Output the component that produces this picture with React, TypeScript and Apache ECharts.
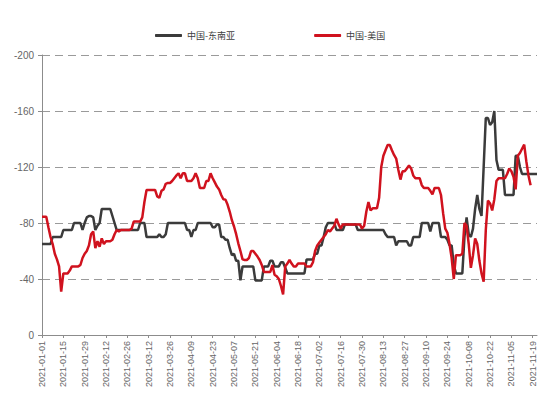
import React, { useEffect, useRef } from "react";
import * as echarts from "echarts";

// Weekday categories from 2021-01-01 (233 points, last = 2021-11-23)
const START_DATE = "2021-01-01";
const POINT_COUNT = 233;
function buildWeekdays(start: string, count: number): string[] {
  const out: string[] = [];
  const d = new Date(start + "T00:00:00Z");
  while (out.length < count) {
    const wd = d.getUTCDay();
    if (wd !== 0 && wd !== 6) {
      const m = String(d.getUTCMonth() + 1).padStart(2, "0");
      const day = String(d.getUTCDate()).padStart(2, "0");
      out.push(`${d.getUTCFullYear()}-${m}-${day}`);
    }
    d.setUTCDate(d.getUTCDate() + 1);
  }
  return out;
}
const categories = buildWeekdays(START_DATE, POINT_COUNT);

const seriesNames = ["中国-东南亚", "中国-美国"];

const seaValues = [
  -65, -65, -65, -65, -65, -70, -70, -70, -70, -70,
  -75, -75, -75, -75, -75, -80, -80, -80, -80, -75,
  -80, -84, -85, -85, -84, -75, -78, -80, -90, -90,
  -90, -90, -90, -85, -80, -75, -75, -75, -75, -75,
  -75, -75, -75, -75, -75, -75, -80, -80, -80, -70,
  -70, -70, -70, -70, -70, -72, -70, -70, -72, -80,
  -80, -80, -80, -80, -80, -80, -80, -80, -75, -75,
  -70, -75, -75, -80, -80, -80, -80, -80, -80, -80,
  -77, -77, -79, -79, -70, -70, -68, -68, -62, -57,
  -58, -53, -53, -39, -49, -49, -49, -49, -49, -49,
  -39, -39, -39, -39, -49, -49, -49, -53, -53, -49,
  -49, -49, -52, -52, -48, -44, -44, -44, -44, -44,
  -44, -44, -44, -44, -54, -54, -54, -54, -58, -58,
  -64, -64, -70, -77, -80, -80, -80, -80, -75, -75,
  -75, -75, -79, -79, -79, -79, -79, -79, -75, -75,
  -75, -75, -75, -75, -75, -75, -75, -75, -75, -75,
  -75, -72, -70, -70, -70, -70, -64, -67, -67, -67,
  -67, -67, -64, -64, -70, -70, -70, -70, -80, -80,
  -80, -80, -74, -80, -80, -80, -80, -70, -70, -70,
  -68, -64, -64, -50, -44, -44, -44, -44, -70, -84,
  -72, -70, -76, -90, -100, -90, -85, -120, -155, -155,
  -150, -152, -160, -125, -118, -118, -118, -100, -100, -100,
  -100, -100, -128, -128, -120, -115, -115, -115, -115, -115,
  -115, -115, -115,
];

const usValues: (number | null)[] = [
  -84.5, -84.5, -84.5, -77, -70, -65, -58, -54, -49, -31,
  -44, -44, -44, -46, -49, -49, -49, -49, -50, -55,
  -58, -60, -64, -72, -74, -62, -67, -63, -69, -65,
  -67, -67, -67, -68, -72, -75, -74, -75, -75, -75,
  -75, -75, -76, -81, -81, -81, -81, -84, -95, -103.6,
  -103.6, -103.6, -103.6, -103.6, -99, -98, -103, -104, -108, -108.6,
  -108.6, -110, -112, -114, -115.5, -112, -115.5, -115.5, -110, -110,
  -110, -112, -115.5, -112, -105, -105, -105, -110, -110, -115.5,
  -112, -109, -106, -104, -100, -97, -96.7, -93, -88, -82,
  -77.5, -72, -65.5, -60, -54, -53.6, -53.6, -55, -60, -60,
  -58, -56, -53.6, -50, -45, -45, -45, -45, -50, -43,
  -42, -40, -35, -29, -49, -51, -53.6, -51, -49, -49,
  -51, -51, -51, -51, -49, -49, -49, -52, -60, -64,
  -66, -68, -70, -72, -75, -74, -76, -78, -83, -79,
  -76, -79, -79, -79, -79, -79, -79, -79, -79, -79,
  -76, -78, -88, -95, -89, -90.5, -90.5, -90.5, -98, -120,
  -128, -132, -135.7, -135.7, -132, -128.6, -126, -118, -111, -117,
  -117, -119, -121, -119, -114, -112, -112, -112, -107, -105,
  -105, -105, -103, -100.5, -105, -105, -105, -100, -87, -76,
  -73, -65, -55, -40, -57, -57, -57, -58, -80, -78,
  -65, -48, -57, -69, -65, -53, -44, -38, -75, -96,
  -94, -89, -97, -110, -112, -112, -112, -112, -115, -119,
  -117, -113, -104, -128, -130, -133, -136, -124, -114, -107,
  null, null, null,
];

const Y_MIN = -200;
const Y_MAX = 0;
const Y_STEP = 40;

const seriesColors = ["#3b3b3b", "#d0121e"];

export default function App() {
  const ref = useRef<HTMLDivElement>(null);
  useEffect(() => {
    document.body.style.margin = "0";
    if (!ref.current) return;
    const chart = echarts.init(ref.current, undefined, { renderer: "svg" });
    const font = "'Liberation Sans', 'Noto Sans CJK SC', sans-serif";
    chart.setOption({
      animation: false,
      backgroundColor: "#ffffff",
      legend: {
        top: 26,
        left: 150,
        icon: "roundRect",
        itemWidth: 27,
        itemHeight: 3,
        itemGap: 79,
        textStyle: { fontSize: 9, color: "#404040", fontFamily: "'Noto Sans CJK SC', sans-serif" },
        data: seriesNames,
      },
      grid: { left: 42, right: 13, top: 55, bottom: 63, containLabel: false },
      xAxis: {
        type: "category",
        data: categories,
        boundaryGap: false,
        axisLine: { lineStyle: { color: "#8c8c8c", width: 1 } },
        axisTick: { show: true, interval: 9, length: 3, lineStyle: { color: "#8c8c8c" } },
        axisLabel: {
          interval: 9,
          rotate: 90,
          fontSize: 9,
          color: "#666666",
          margin: 6,
          fontFamily: font,
        },
        splitLine: { show: false },
      },
      yAxis: {
        type: "value",
        inverse: true,
        min: Y_MIN,
        max: Y_MAX,
        interval: Y_STEP,
        axisLine: { show: true, lineStyle: { color: "#8c8c8c", width: 1 } },
        axisTick: { show: true, length: 4, lineStyle: { color: "#8c8c8c" } },
        axisLabel: { fontSize: 10, color: "#666666", margin: 8, fontFamily: font },
        splitLine: {
          show: true,
          lineStyle: { color: "#9a9a9a", width: 1, type: [8, 5] },
        },
      },
      series: [
        {
          name: seriesNames[0],
          type: "line",
          data: seaValues,
          symbol: "none",
          lineStyle: { color: seriesColors[0], width: 2.5 },
          itemStyle: { color: seriesColors[0] },
        },
        {
          name: seriesNames[1],
          type: "line",
          data: usValues,
          symbol: "none",
          lineStyle: { color: seriesColors[1], width: 2.5 },
          itemStyle: { color: seriesColors[1] },
        },
      ],
    });
    return () => chart.dispose();
  }, []);
  return <div ref={ref} style={{ width: 550, height: 398 }} />;
}
